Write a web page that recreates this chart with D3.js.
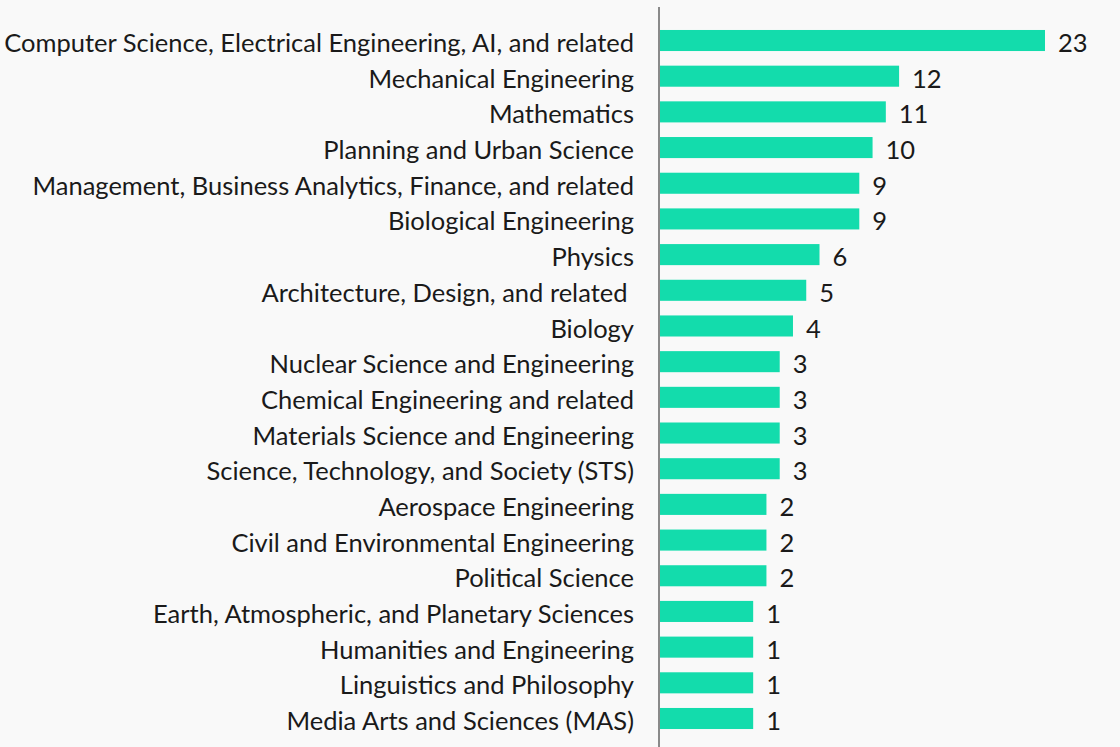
<!DOCTYPE html>
<html>
<head>
<meta charset="utf-8">
<script src="https://cdn.jsdelivr.net/npm/d3@7"></script>
<style>
  html, body { margin: 0; padding: 0; background: #f9f9f9; }
  svg { display: block; }
  text { font-family: "Lato", "Noto Sans", sans-serif; }
</style>
</head>
<body>
<svg id="chart" width="1120" height="747"></svg>
<script>
const categories = [
  "Computer Science, Electrical Engineering, AI, and related",
  "Mechanical Engineering",
  "Mathematics",
  "Planning and Urban Science",
  "Management, Business Analytics, Finance, and related",
  "Biological Engineering",
  "Physics",
  "Architecture, Design, and related ",
  "Biology",
  "Nuclear Science and Engineering",
  "Chemical Engineering and related",
  "Materials Science and Engineering",
  "Science, Technology, and Society (STS)",
  "Aerospace Engineering",
  "Civil and Environmental Engineering",
  "Political Science",
  "Earth, Atmospheric, and Planetary Sciences",
  "Humanities and Engineering",
  "Linguistics and Philosophy",
  "Media Arts and Sciences (MAS)"
];
const values = [23, 12, 11, 10, 9, 9, 6, 5, 4, 3, 3, 3, 3, 2, 2, 2, 1, 1, 1, 1];

const W = 1120, H = 747;
const axisX = 659;
const svg = d3.select("#chart");
svg.append("rect").attr("width", W).attr("height", H).attr("fill", "#f9f9f9");

const y = d3.scaleBand()
  .domain(categories)
  .range([22.66, 736.34])
  .paddingInner(0.41)
  .paddingOuter(0.205);

const x = d3.scaleLinear()
  .domain([-6.1, 23])
  .range([axisX, axisX + 386]);

const data = categories.map((c, i) => ({ c, v: values[i] }));

svg.append("g").selectAll("rect")
  .data(data)
  .join("rect")
  .attr("x", axisX)
  .attr("y", d => y(d.c))
  .attr("width", d => x(d.v) - axisX)
  .attr("height", y.bandwidth())
  .attr("fill", "#13dcac");

svg.append("g").selectAll("text")
  .data(data)
  .join("text")
  .attr("x", axisX - 25)
  .attr("y", d => y(d.c) + y.bandwidth() + 1)
  .attr("text-anchor", "end")
  .attr("font-size", 25.5)
  .attr("fill", "#1a1a1a")
  .attr("xml:space", "preserve")
  .text(d => d.c);

svg.append("g").selectAll("text")
  .data(data)
  .join("text")
  .attr("x", d => x(d.v) + 13)
  .attr("y", d => y(d.c) + y.bandwidth() + 1)
  .attr("text-anchor", "start")
  .attr("font-size", 25.5)
  .attr("fill", "#1a1a1a")
  .text(d => d.v);

svg.append("line")
  .attr("x1", axisX).attr("x2", axisX)
  .attr("y1", 7).attr("y2", H)
  .attr("stroke", "#8a8a8a")
  .attr("stroke-width", 2);
</script>
</body>
</html>
